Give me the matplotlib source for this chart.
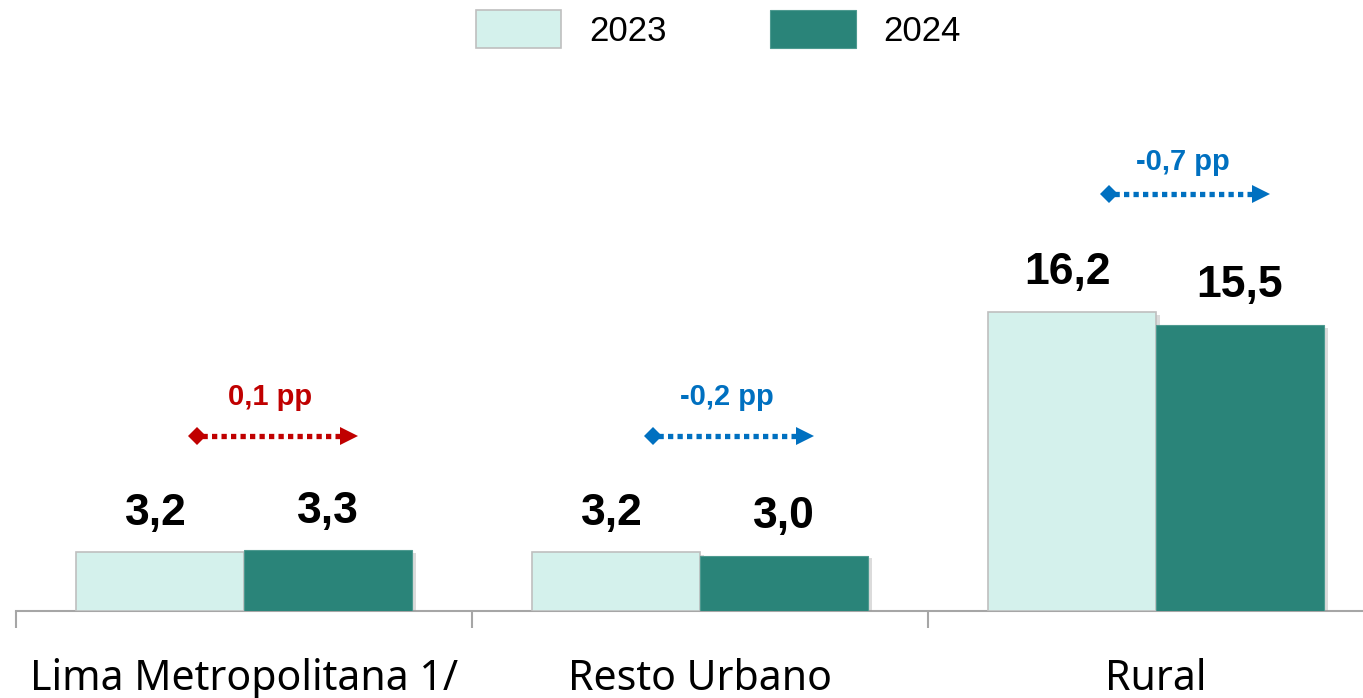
import matplotlib
matplotlib.use("Agg")
import matplotlib.pyplot as plt
import matplotlib.patheffects as pe
import numpy as np

categories = ["Lima Metropolitana 1/", "Resto Urbano", "Rural"]
years = ["2023", "2024"]
values_2023 = [3.2, 3.2, 16.2]
values_2024 = [3.3, 3.0, 15.5]
diff_labels = ["0,1 pp", "-0,2 pp", "-0,7 pp"]
diff_values = [0.1, -0.2, -0.7]

col_2023 = "#D4F1EC"
col_2024 = "#2A8479"
red = "#C00000"
blue = "#0070C0"

fig = plt.figure(figsize=(13.63, 6.98), dpi=100)
ax = fig.add_axes([16/1363, 87/698, 1368/1363, 591/698])

x = np.arange(len(categories))
w = 0.368
shadow = [pe.SimplePatchShadow(offset=(3, -2), shadow_rgbFace="#9a9a9a", alpha=0.35), pe.Normal()]
b1 = ax.bar(x - w/2, values_2023, w, color=col_2023, edgecolor="#BFBFBF", linewidth=1.2,
            label=years[0], zorder=3)
b2 = ax.bar(x + w/2, values_2024, w, color=col_2024, edgecolor="#4E9A90", linewidth=0.8,
            label=years[1], zorder=3)
for b in list(b1) + list(b2):
    b.set_path_effects(shadow)

for xi, v in zip(x - w/2, values_2023):
    ax.annotate(f"{v:.1f}".replace(".", ","), (xi, v), xytext=(-3, 28), textcoords="offset points",
                ha="center", va="center", fontsize=32, fontweight="bold",
                family="Liberation Sans", color="black")
for xi, v in zip(x + w/2, values_2024):
    ax.annotate(f"{v:.1f}".replace(".", ","), (xi, v), xytext=(0, 28), textcoords="offset points",
                ha="center", va="center", fontsize=32, fontweight="bold",
                family="Liberation Sans", color="black")

# change arrows
arrow_y = [9.48, 9.48, 22.6]
text_y = [11.6, 11.6, 24.3]
for xi, d, lab, ay, ty in zip(x, diff_values, diff_labels, arrow_y, text_y):
    c = red if d > 0 else blue
    x0, x1 = xi - 0.107, xi + 0.243
    ax.plot([x0 + 0.015, x1 - 0.02], [ay, ay], color=c, lw=3.8, linestyle=(0, (1, 0.8)),
            dash_capstyle="butt", clip_on=False, zorder=4)
    ax.plot([x0 + 0.004], [ay], marker="D", markersize=9.5, color=c, clip_on=False, zorder=5,
            markeredgewidth=0)
    ax.plot([x1 - 0.012], [ay], marker=">", markersize=13, color=c, clip_on=False, zorder=5,
            markeredgewidth=0)
    ax.text(xi + 0.058, ty, lab, ha="center", va="center", fontsize=21,
            fontweight="bold", family="Liberation Sans", color=c)

ax.set_xlim(-0.5, 2.5)
ax.set_ylim(0, 32)
for s in ["top", "right", "left"]:
    ax.spines[s].set_visible(False)
ax.spines["bottom"].set_color("#A6A6A6")
ax.spines["bottom"].set_linewidth(1.5)
ax.set_yticks([])
ax.set_xticks(x)
ax.set_xticklabels(categories, fontsize=29.5, family="Noto Sans")
ax.tick_params(axis="x", which="major", length=0, pad=34)
ax.set_xticks([-0.5, 0.5, 1.5, 2.5], minor=True)
ax.tick_params(axis="x", which="minor", length=12, width=1.5, color="#A6A6A6")

leg = fig.legend(handles=[b1, b2], labels=years, loc="upper center",
                 bbox_to_anchor=(0.527, 1.03), ncol=2, frameon=False,
                 prop={"family": "Liberation Sans", "size": 25},
                 handlelength=2.45, handleheight=1.3, handletextpad=0.8, columnspacing=3.0)
for h in leg.legend_handles:
    h.set_path_effects([])

fig.savefig("out.png", dpi=100)
